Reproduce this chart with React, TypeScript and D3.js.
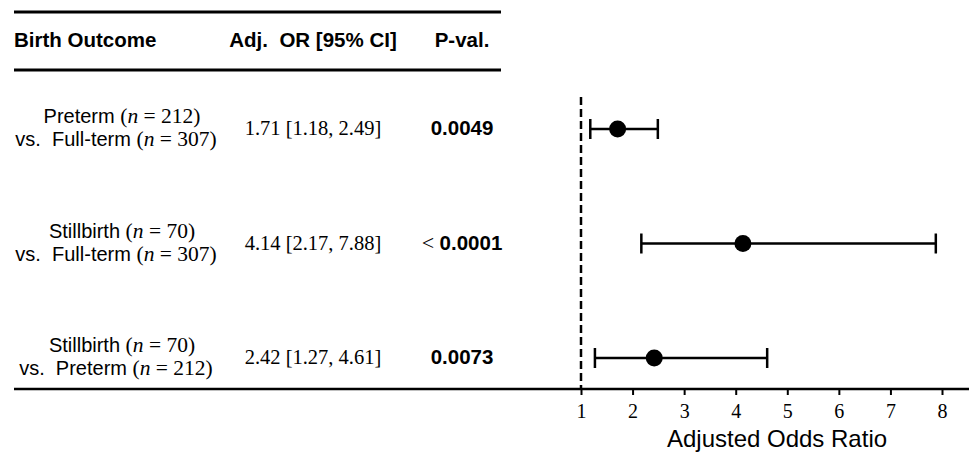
import React, { useEffect, useRef } from 'react';
import * as d3 from 'd3';

// rows of the forest plot
const groupA = ['Preterm', 'Stillbirth', 'Stillbirth'];
const nA = [212, 70, 70];
const groupB = ['Full-term', 'Full-term', 'Preterm'];
const nB = [307, 307, 212];
const oddsRatio = [1.71, 4.14, 2.42];
const ciLow = [1.18, 2.17, 1.27];
const ciHigh = [2.49, 7.88, 4.61];
const pPrefix = ['', '<\u00A0', ''];
const pValue = ['0.0049', '0.0001', '0.0073'];
const xTicks = [1, 2, 3, 4, 5, 6, 7, 8];

const SANS = '"Liberation Sans", Arial, sans-serif';
const SERIF = '"Liberation Serif", "Times New Roman", serif';
const NB = '\u00A0';

function ForestPlot() {
  const svgRef = useRef<SVGSVGElement>(null);

  useEffect(() => {
    const width = 969;
    const height = 455;
    const svg = d3.select(svgRef.current);
    svg.selectAll('*').remove();
    svg.attr('width', width).attr('height', height);

    const x = d3.scaleLinear().domain([1, 8]).range([581, 942]);
    const y = d3
      .scalePoint<number>()
      .domain(d3.range(oddsRatio.length))
      .range([129, 358]);
    const axisY = 389;

    // table rules
    svg.append('line').attr('x1', 14).attr('x2', 501).attr('y1', 12).attr('y2', 12)
      .attr('stroke', '#000').attr('stroke-width', 3);
    svg.append('line').attr('x1', 14).attr('x2', 501).attr('y1', 70).attr('y2', 70)
      .attr('stroke', '#000').attr('stroke-width', 3);

    // header
    const header = svg.append('g')
      .style('font-family', SANS).style('font-weight', 'bold').style('font-size', '20.5px');
    header.append('text').attr('x', 14).attr('y', 47).text('Birth Outcome');
    header.append('text').attr('x', 313).attr('y', 47).attr('text-anchor', 'middle').text('Adj.\u00A0 OR [95% CI]');
    header.append('text').attr('x', 462).attr('y', 47).attr('text-anchor', 'middle').text('P-val.');

    const rows = svg.selectAll('g.row')
      .data(d3.range(oddsRatio.length))
      .enter()
      .append('g')
      .attr('class', 'row');

    const addLabel = (
      dy: number,
      cx: number,
      prefix: (i: number) => string,
      n: number[]
    ) => {
      const t = rows.append('text')
        .attr('x', cx)
        .attr('y', (i) => y(i)! + dy)
        .attr('text-anchor', 'middle')
        .style('font-size', '20px');
      t.append('tspan').style('font-family', SANS).text((i) => prefix(i) + NB);
      t.append('tspan').style('font-family', SERIF).style('font-size', '21.5px').text('(');
      t.append('tspan').style('font-family', SERIF).style('font-style', 'italic').style('font-size', '21.5px').text('n');
      t.append('tspan').style('font-family', SERIF).style('font-size', '21.5px')
        .text((i) => `${NB}=${NB}${n[i]})`);
    };

    // outcome label, two lines
    addLabel(-6, 122, (i) => groupA[i], nA);
    addLabel(17, 116, (i) => `vs.${NB}${NB}${groupB[i]}`, nB);

    // OR and CI
    rows.append('text')
      .attr('x', 313)
      .attr('y', (i) => y(i)! + 6)
      .attr('text-anchor', 'middle')
      .style('font-family', SERIF)
      .style('font-size', '20.5px')
      .text((i) => `${oddsRatio[i].toFixed(2)} [${ciLow[i].toFixed(2)}, ${ciHigh[i].toFixed(2)}]`);

    // p-values
    const pText = rows.append('text')
      .attr('x', 462)
      .attr('y', (i) => y(i)! + 6)
      .attr('text-anchor', 'middle')
      .style('font-size', '20.5px');
    pText.append('tspan').style('font-family', SERIF).style('font-size', '22px').text((i) => pPrefix[i]);
    pText.append('tspan').style('font-family', SANS).style('font-weight', 'bold').text((i) => pValue[i]);

    // reference line at OR = 1
    svg.append('line')
      .attr('x1', x(1)).attr('x2', x(1))
      .attr('y1', 97).attr('y2', axisY)
      .attr('stroke', '#000').attr('stroke-width', 2.5)
      .attr('stroke-dasharray', '8,4');

    // error bars
    rows.append('line')
      .attr('x1', (i) => x(ciLow[i])).attr('x2', (i) => x(ciHigh[i]))
      .attr('y1', (i) => y(i)!).attr('y2', (i) => y(i)!)
      .attr('stroke', '#000').attr('stroke-width', 2.5);
    [ciLow, ciHigh].forEach((arr) => {
      rows.append('line')
        .attr('x1', (i) => x(arr[i])).attr('x2', (i) => x(arr[i]))
        .attr('y1', (i) => y(i)! - 10).attr('y2', (i) => y(i)! + 10)
        .attr('stroke', '#000').attr('stroke-width', 2.5);
    });
    rows.append('circle')
      .attr('cx', (i) => x(oddsRatio[i]))
      .attr('cy', (i) => y(i)!)
      .attr('r', 8.5)
      .attr('fill', '#000');

    // bottom rule + axis spine
    svg.append('line').attr('x1', 14).attr('x2', width).attr('y1', axisY).attr('y2', axisY)
      .attr('stroke', '#000').attr('stroke-width', 2.5);

    const axis = svg.append('g')
      .attr('transform', `translate(0,${axisY})`)
      .call(
        d3.axisBottom(x)
          .tickValues(xTicks)
          .tickFormat(d3.format('d'))
          .tickSize(6)
          .tickSizeOuter(0)
          .tickPadding(9)
      );
    axis.select('.domain').remove();
    axis.selectAll('.tick line').attr('stroke', '#000').attr('stroke-width', 2);
    axis.selectAll('.tick text')
      .attr('fill', '#000')
      .style('font-family', SERIF)
      .style('font-size', '20px');

    svg.append('text')
      .attr('x', 777)
      .attr('y', 447)
      .attr('text-anchor', 'middle')
      .style('font-family', SANS)
      .style('font-size', '24px')
      .text('Adjusted Odds Ratio');
  }, []);

  return <svg ref={svgRef} style={{ position: 'absolute', left: 0, top: 0, background: '#fff' }}></svg>;
}

export default function App() {
  return (
    <div>
      <ForestPlot />
    </div>
  );
}
